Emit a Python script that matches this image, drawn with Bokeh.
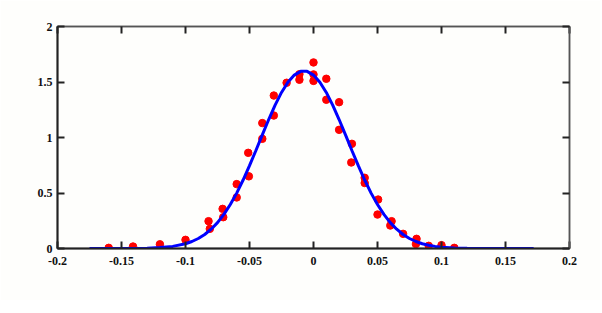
from bokeh.plotting import figure
from bokeh.models import LinearAxis, FixedTicker, Range1d
from bokeh.embed import file_html
from bokeh.resources import INLINE

# measured points (red dots)
pts_x = [-0.160, -0.141, -0.120, -0.100, -0.082, -0.081, -0.071, -0.0705,
         -0.060, -0.060, -0.0505, -0.051, -0.040, -0.040, -0.031, -0.031,
         -0.021, -0.011, -0.011, 0.000, 0.000, 0.000, 0.010, 0.010,
         0.020, 0.020, 0.030, 0.0295, 0.040, 0.040, 0.0505, 0.050,
         0.061, 0.060, 0.070, 0.0805, 0.080, 0.090, 0.100, 0.110]
pts_y = [0.006, 0.018, 0.038, 0.078, 0.246, 0.177, 0.357, 0.282,
         0.58, 0.46, 0.65, 0.862, 0.988, 1.13, 1.198, 1.378,
         1.493, 1.57, 1.52, 1.676, 1.568, 1.51, 1.529, 1.34,
         1.318, 1.069, 0.943, 0.775, 0.637, 0.59, 0.441, 0.306,
         0.246, 0.207, 0.132, 0.087, 0.040, 0.024, 0.030, 0.006]

# fitted curve (blue line)
fit_x = [-0.175, -0.15, -0.13, -0.12, -0.11, -0.10, -0.095, -0.09, -0.085, -0.08,
         -0.075, -0.07, -0.065, -0.06, -0.055, -0.05, -0.045, -0.04, -0.035, -0.03,
         -0.025, -0.02, -0.015, -0.01, -0.005, 0.0, 0.005, 0.01, 0.015, 0.02,
         0.025, 0.03, 0.035, 0.04, 0.045, 0.05, 0.055, 0.06, 0.065, 0.07,
         0.075, 0.08, 0.085, 0.09, 0.095, 0.10, 0.11, 0.12, 0.14, 0.172]
fit_y = [0.0, 0.0003, 0.003, 0.008, 0.019, 0.043, 0.063, 0.090, 0.126, 0.174,
         0.233, 0.307, 0.396, 0.499, 0.617, 0.746, 0.883, 1.024, 1.162, 1.292,
         1.406, 1.498, 1.562, 1.596, 1.596, 1.562, 1.498, 1.406, 1.292, 1.162,
         1.024, 0.883, 0.746, 0.617, 0.499, 0.396, 0.307, 0.233, 0.174, 0.126,
         0.090, 0.063, 0.043, 0.029, 0.019, 0.012, 0.005, 0.002, 0.0001, 0.0]

x_ticks = [-0.2, -0.15, -0.1, -0.05, 0, 0.05, 0.1, 0.15, 0.2]
y_ticks = [0, 0.5, 1, 1.5, 2]
x_labels = {-0.2: "-0.2", -0.15: "-0.15", -0.1: "-0.1", -0.05: "-0.05", 0: "0",
            0.05: "0.05", 0.1: "0.1", 0.15: "0.15", 0.2: "0.2"}
y_labels = {0: "0", 0.5: "0.5", 1: "1", 1.5: "1.5", 2: "2"}

W, H = 600, 300
p = figure(width=W, height=H, output_backend="svg", toolbar_location=None,
           x_range=Range1d(-0.2, 0.2), y_range=Range1d(0, 2),
           min_border_left=57, min_border_top=26, min_border_right=W - 569,
           min_border_bottom=H - 248, x_axis_location=None, y_axis_location=None)
p.background_fill_color = "#FEFEFC"
p.border_fill_color = "#FEFEFC"
p.outline_line_color = "#555555"
p.outline_line_width = 1.5
p.xgrid.visible = False
p.ygrid.visible = False

font = "Liberation Serif"

def style(ax, ticks, labels, show):
    ax.ticker = FixedTicker(ticks=ticks)
    ax.major_tick_in = 7
    ax.major_tick_out = 0
    ax.minor_tick_line_color = None
    ax.major_tick_line_width = 2
    ax.major_tick_line_color = "#222222"
    ax.axis_line_color = "#222222"
    ax.axis_line_width = 2
    if show:
        ax.major_label_overrides = labels
        ax.major_label_text_font = font
        ax.major_label_text_font_style = "bold"
        ax.major_label_text_font_size = "12px"
        ax.major_label_text_color = "#111111"
    else:
        ax.major_label_text_color = None
        ax.major_label_text_font_size = "1px"
        ax.major_label_standoff = 0
        ax.axis_line_color = "#555555"
        ax.axis_line_width = 1.5

xb = LinearAxis(); style(xb, x_ticks, x_labels, True); xb.major_label_standoff = 8
yl = LinearAxis(); style(yl, y_ticks, y_labels, True); yl.major_label_standoff = 5
xt = LinearAxis(); style(xt, x_ticks, {}, False)
yr = LinearAxis(); style(yr, y_ticks, {}, False)
p.add_layout(xb, "below")
p.add_layout(yl, "left")
p.add_layout(xt, "above")
p.add_layout(yr, "right")

p.scatter(pts_x, pts_y, size=7.5, color="#FF0000", line_color="#FF0000")
p.line(fit_x, fit_y, line_color="#0000FF", line_width=3)

open("out.html", "w").write(file_html(p, INLINE))
